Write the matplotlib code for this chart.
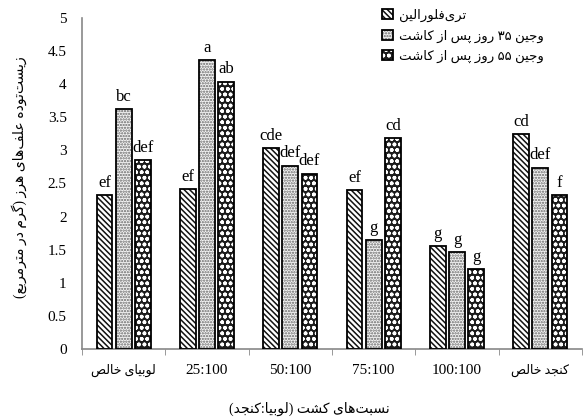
import numpy as np
import matplotlib
matplotlib.use("Agg")
import matplotlib.pyplot as plt
from matplotlib.patches import Patch
from matplotlib.legend_handler import HandlerTuple

# data (g/m2 weed biomass)
categories = ['لوبیای خالص', '25:100', '50:100', '75:100', '100:100', 'کنجد خالص']
series_names = ['تری\u200cفلورالین', 'وجین ۳۵ روز پس از کاشت', 'وجین ۵۵ روز پس از کاشت']
trifluralin = [2.33, 2.42, 3.03, 2.40, 1.56, 3.25]
weed_35 = [3.63, 4.36, 2.77, 1.64, 1.47, 2.74]
weed_55 = [2.86, 4.04, 2.65, 3.19, 1.21, 2.33]
letters_trif = ['ef', 'ef', 'cde', 'ef', 'g', 'cd']
letters_35 = ['bc', 'a', 'def', 'g', 'g', 'def']
letters_55 = ['def', 'ab', 'def', 'cd', 'g', 'f']
x_title = 'نسبت\u200cهای کشت (لوبیا:کنجد)'
y_title = 'زیست\u200cتوده علف\u200cهای هرز (گرم در مترمربع)'

# --- tiny persian shaper (matplotlib has no RTL / joining support) ---
FORMS = {
    'ا': ('\uFE8D', '\uFE8E'), 'د': ('\uFEA9', '\uFEAA'), 'ر': ('\uFEAD', '\uFEAE'),
    'ز': ('\uFEAF', '\uFEB0'), 'و': ('\uFEED', '\uFEEE'),
    'ب': ('\uFE8F', '\uFE90', '\uFE91', '\uFE92'), 'پ': ('\uFB56', '\uFB57', '\uFB58', '\uFB59'),
    'ت': ('\uFE95', '\uFE96', '\uFE97', '\uFE98'), 'ج': ('\uFE9D', '\uFE9E', '\uFE9F', '\uFEA0'),
    'خ': ('\uFEA5', '\uFEA6', '\uFEA7', '\uFEA8'), 'س': ('\uFEB1', '\uFEB2', '\uFEB3', '\uFEB4'),
    'ش': ('\uFEB5', '\uFEB6', '\uFEB7', '\uFEB8'), 'ص': ('\uFEB9', '\uFEBA', '\uFEBB', '\uFEBC'),
    'ع': ('\uFEC9', '\uFECA', '\uFECB', '\uFECC'), 'ف': ('\uFED1', '\uFED2', '\uFED3', '\uFED4'),
    'ک': ('\uFB8E', '\uFB8F', '\uFB90', '\uFB91'), 'گ': ('\uFB92', '\uFB93', '\uFB94', '\uFB95'),
    'ل': ('\uFEDD', '\uFEDE', '\uFEDF', '\uFEE0'), 'م': ('\uFEE1', '\uFEE2', '\uFEE3', '\uFEE4'),
    'ن': ('\uFEE5', '\uFEE6', '\uFEE7', '\uFEE8'), 'ه': ('\uFEE9', '\uFEEA', '\uFEEB', '\uFEEC'),
    'ی': ('\uFBFC', '\uFBFD', '\uFBFE', '\uFBFF'),
}
MIRROR = {'(': ')', ')': '('}


def fa(text):
    if not any(c in FORMS for c in text):
        return text
    out = []
    n = len(text)
    for i, c in enumerate(text):
        if c not in FORMS:
            if c != '\u200c':
                out.append(MIRROR.get(c, c))
            continue
        f = FORMS[c]
        prev_j = i > 0 and text[i - 1] in FORMS and len(FORMS[text[i - 1]]) == 4
        next_j = len(f) == 4 and i + 1 < n and text[i + 1] in FORMS
        if prev_j and next_j:
            out.append(f[3])
        elif prev_j:
            out.append(f[1])
        elif next_j:
            out.append(f[2])
        else:
            out.append(f[0])
    # reverse for visual order, keep digit runs left-to-right
    vis, run = [], []
    for c in reversed(out):
        if c.isdigit():
            run.insert(0, c)
        else:
            vis.extend(run)
            run = []
            vis.append(c)
    vis.extend(run)
    return ''.join(vis)


plt.rcParams['font.family'] = ['Liberation Serif', 'DejaVu Sans']
plt.rcParams['hatch.linewidth'] = 1.1

fig = plt.figure(figsize=(5.88, 4.19), dpi=100)
ax = fig.add_axes([82 / 588, 1 - 349 / 419, 500 / 588, 331 / 419])

x = np.arange(len(categories))
w = 0.19
step = 0.23
styles = [
    dict(facecolor='white', hatch_color='#111111', hatch='\\\\\\\\\\\\'),
    dict(facecolor='#f4f4f4', hatch_color='#666666', hatch='......'),
    dict(facecolor='#1c1c1c', hatch_color='white', hatch='ooo'),
]
series = [trifluralin, weed_35, weed_55]
letters = [letters_trif, letters_35, letters_55]

handles = []
for k, (vals, st, lab) in enumerate(zip(series, styles, letters)):
    xs = x + (k - 1) * step
    ax.bar(xs, vals, w, color=st['facecolor'], edgecolor=st['hatch_color'],
           hatch=st['hatch'], linewidth=0, zorder=2)
    ax.bar(xs, vals, w, fill=False, edgecolor='black', linewidth=1.3, zorder=3)
    for xi, v, t in zip(xs, vals, lab):
        ax.annotate(t, (xi, v), xytext=(0, 3), textcoords='offset points',
                    ha='center', va='bottom', fontsize=12)
    handles.append((Patch(facecolor=st['facecolor'], edgecolor=st['hatch_color'],
                          hatch=st['hatch'], linewidth=0),
                    Patch(fill=False, edgecolor='black', linewidth=1.3)))

ax.set_xlim(-0.5, len(categories) - 0.5)
ax.set_ylim(0, 5)
ax.set_yticks(np.arange(0, 5.01, 0.5))
ax.set_yticklabels(['0', '0.5', '1', '1.5', '2', '2.5', '3', '3.5', '4', '4.5', '5'])
ax.tick_params(axis='y', length=0, pad=11, labelsize=11)

ax.set_xticks(x)
ax.set_xticklabels([fa(c) for c in categories])
ax.set_xticks(np.arange(-0.5, len(categories), 1.0), minor=True)
ax.tick_params(axis='x', which='major', length=0, pad=11, labelsize=11)
ax.tick_params(axis='x', which='minor', length=4, color='#888888', direction='out')
for lbl, c in zip(ax.get_xticklabels(), categories):
    if fa(c) != c:
        lbl.set_fontsize(9)

for s in ['top', 'right']:
    ax.spines[s].set_visible(False)
for s in ['left', 'bottom']:
    ax.spines[s].set_color('#888888')
    ax.spines[s].set_linewidth(1.2)

ax.set_ylabel(fa(y_title), fontsize=10)
ax.yaxis.set_label_coords((27 - 82) / 500, 0.52)
ax.set_xlabel(fa(x_title), fontsize=10)
ax.xaxis.set_label_coords((309 - 82) / 500, (349 - 402) / 331)

fig.legend(handles, [fa(s) for s in series_names], loc='upper left',
           bbox_to_anchor=(382 / 588, 1 - 9 / 419), frameon=False, fontsize=9.5,
           handlelength=0.8, handleheight=0.8, handletextpad=0.5, labelspacing=0.55,
           borderpad=0, borderaxespad=0,
           handler_map={tuple: HandlerTuple(ndivide=1, pad=0)})

fig.savefig('out.png', dpi=100)
